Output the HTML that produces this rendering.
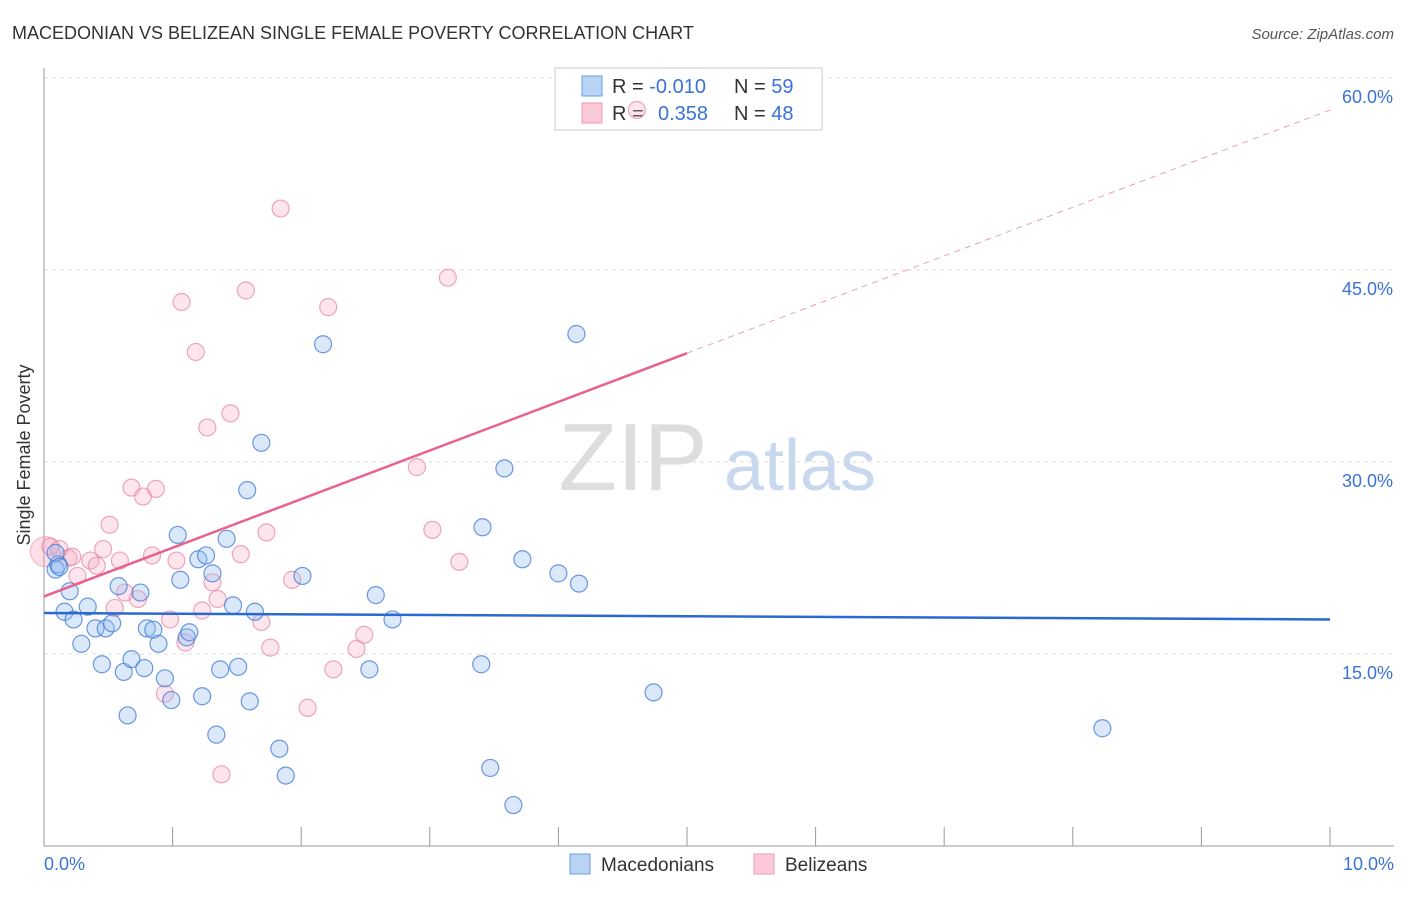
<!DOCTYPE html>
<html><head><meta charset="utf-8"><style>
body{margin:0;background:#fff;font-family:"Liberation Sans",sans-serif;}
svg text{font-family:"Liberation Sans",sans-serif;}
</style></head><body>
<svg id="c" width="1406" height="892">
<text x="12" y="39" font-size="18" fill="#333">MACEDONIAN VS BELIZEAN SINGLE FEMALE POVERTY CORRELATION CHART</text>
<text x="1394" y="39" font-size="15" fill="#555" font-style="italic" text-anchor="end">Source: ZipAtlas.com</text>
<text x="633" y="490" font-size="96" fill="#ddd" font-family="Liberation Serif" text-anchor="middle">ZIP</text>
<text x="800" y="490" font-size="72" fill="#c8d8ee" text-anchor="middle">atlas</text>
<g id="grid"></g>
<g>
<rect x="555" y="68" width="267" height="62" fill="#fff" stroke="#ccc"/>
<rect x="582" y="76" width="20" height="20" fill="#b9d3f5" stroke="#6a9be0"/>
<rect x="582" y="103" width="20" height="20" fill="#fbc9d8" stroke="#ee9ab4"/>
<text x="612" y="93" font-size="20" fill="#333">R = <tspan fill="#3a72d8">-0.010</tspan></text>
<text x="734" y="93" font-size="20" fill="#333">N = <tspan fill="#3a72d8">59</tspan></text>
<text x="612" y="120" font-size="20" fill="#333">R = </text><text x="658" y="120" font-size="20" fill="#3a72d8">0.358</text>
<text x="734" y="120" font-size="20" fill="#333">N = <tspan fill="#3a72d8">48</tspan></text>
</g>
<g id="pts"></g><g id="lines"></g>
<text x="30" y="455" font-size="18" fill="#333" text-anchor="middle" transform="rotate(-90 30 455)">Single Female Poverty</text>
<text x="44" y="870" font-size="18" fill="#3a72d8">0.0%</text>
<text x="1394" y="870" font-size="18" fill="#3a72d8" text-anchor="end">10.0%</text>
<g>
<rect x="570" y="854" width="20" height="20" fill="#b9d3f5" stroke="#6a9be0"/>
<text x="601" y="871" font-size="19" fill="#333">Macedonians</text>
<rect x="754" y="854" width="20" height="20" fill="#fbc9d8" stroke="#ee9ab4"/>
<text x="785" y="871" font-size="19" fill="#333">Belizeans</text>
</g>
</svg>
<script>
const yTicks=[15,30,45,60];
const xTicks=[0,1,2,3,4,5,6,7,8,9,10];
const macX=[0.09,0.11,0.09,0.12,0.16,0.2,0.23,0.29,0.34,0.4,0.45,0.48,0.53,0.58,0.62,0.65,0.68,0.75,0.78,0.8,0.85,0.89,0.94,0.99,1.04,1.06,1.11,1.13,1.2,1.23,1.26,1.31,1.34,1.37,1.42,1.47,1.51,1.58,1.6,1.64,1.69,1.83,1.88,2.01,2.17,2.53,2.58,2.71,3.4,3.41,3.47,3.58,3.65,3.72,4.0,4.14,4.16,4.74,8.23];
const macY=[21.6,22.0,22.9,21.8,18.3,19.9,17.7,15.8,18.7,17.0,14.2,17.0,17.4,20.3,13.6,10.2,14.6,19.8,13.9,17.0,16.9,15.8,13.1,11.4,24.3,20.8,16.3,16.7,22.4,11.7,22.7,21.3,8.7,13.8,24.0,18.8,14.0,27.8,11.3,18.3,31.5,7.6,5.5,21.1,39.2,13.8,19.6,17.7,14.2,24.9,6.1,29.5,3.2,22.4,21.3,40.0,20.5,12.0,9.2];
const belX=[0.01,0.05,0.12,0.19,0.22,0.26,0.36,0.41,0.46,0.51,0.55,0.59,0.63,0.68,0.73,0.77,0.84,0.87,0.94,0.98,1.03,1.07,1.1,1.18,1.23,1.27,1.31,1.35,1.38,1.45,1.53,1.57,1.69,1.73,1.76,1.84,1.93,2.05,2.21,2.25,2.43,2.49,2.9,3.02,3.14,3.23,4.61];
const belY=[23.0,23.4,23.2,22.5,22.6,21.1,22.3,21.9,23.2,25.1,18.6,22.3,19.8,28.0,19.3,27.3,22.7,27.9,11.9,17.7,22.3,42.5,15.9,38.6,18.4,32.7,20.6,19.3,5.6,33.8,22.8,43.4,17.5,24.5,15.5,49.8,20.8,10.8,42.1,13.8,15.4,16.5,29.6,24.7,44.4,22.2,57.5];
const macTrend=[18.2,17.7];
const belTrend=[19.5,57.5];
const X=v=>44+v*128.6, Y=v=>846-v*12.8;
const NS='http://www.w3.org/2000/svg';
function mk(t,a,p){const e=document.createElementNS(NS,t);for(const k in a)e.setAttribute(k,a[k]);p.appendChild(e);return e;}
const g=document.getElementById('grid');
for(const t of yTicks){
 const l=mk('line',{x1:44,x2:1394,y1:Y(t),y2:Y(t),stroke:'#ddd','stroke-dasharray':'4,4'},g);
 
 
 const tx=mk('text',{x:1393,y:Y(t)+25,'font-size':18,fill:'#3a72d8','text-anchor':'end'},g);tx.textContent=t.toFixed(1)+'%';
 
 
}
const ax=mk('line',{x1:44,x2:44,y1:68,y2:846,stroke:'#999'},g);


const bx=mk('line',{x1:44,x2:1394,y1:846,y2:846,stroke:'#999'},g);


for(const t of xTicks){const l=mk('line',{x1:X(t),x2:X(t),y1:827,y2:846,stroke:'#999'},g);
 
 }
const p=document.getElementById('pts');
const big=mk('circle',{cx:X(belX[0]),cy:Y(belY[0]),r:15,fill:'rgba(245,160,185,0.35)',stroke:'rgba(230,120,150,0.5)'},p);


for(let i=1;i<belX.length;i++){const c=mk('circle',{cx:X(belX[i]),cy:Y(belY[i]),r:8.5,fill:'rgba(245,170,195,0.3)',stroke:'rgba(232,130,160,0.7)','stroke-width':1.2},p);
 
 }
for(let i=0;i<macX.length;i++){const c=mk('circle',{cx:X(macX[i]),cy:Y(macY[i]),r:8.5,fill:'rgba(150,190,240,0.35)',stroke:'rgba(60,120,215,0.75)','stroke-width':1.2},p);
 
 }
const L=document.getElementById('lines');
const m=mk('line',{x1:X(0),y1:Y(macTrend[0]),x2:X(10),y2:Y(macTrend[1]),stroke:'#2a6ad0','stroke-width':2.5},L);


const by=v=>belTrend[0]+(belTrend[1]-belTrend[0])*v/10;
const b1=mk('line',{x1:X(0),y1:Y(by(0)),x2:X(5),y2:Y(by(5)),stroke:'#e8628d','stroke-width':2.5},L);


const b2=mk('line',{x1:X(5),y1:Y(by(5)),x2:X(10),y2:Y(by(10)),stroke:'#eaa0b8','stroke-width':1,'stroke-dasharray':'6,5'},L);


</script>
</body></html>
